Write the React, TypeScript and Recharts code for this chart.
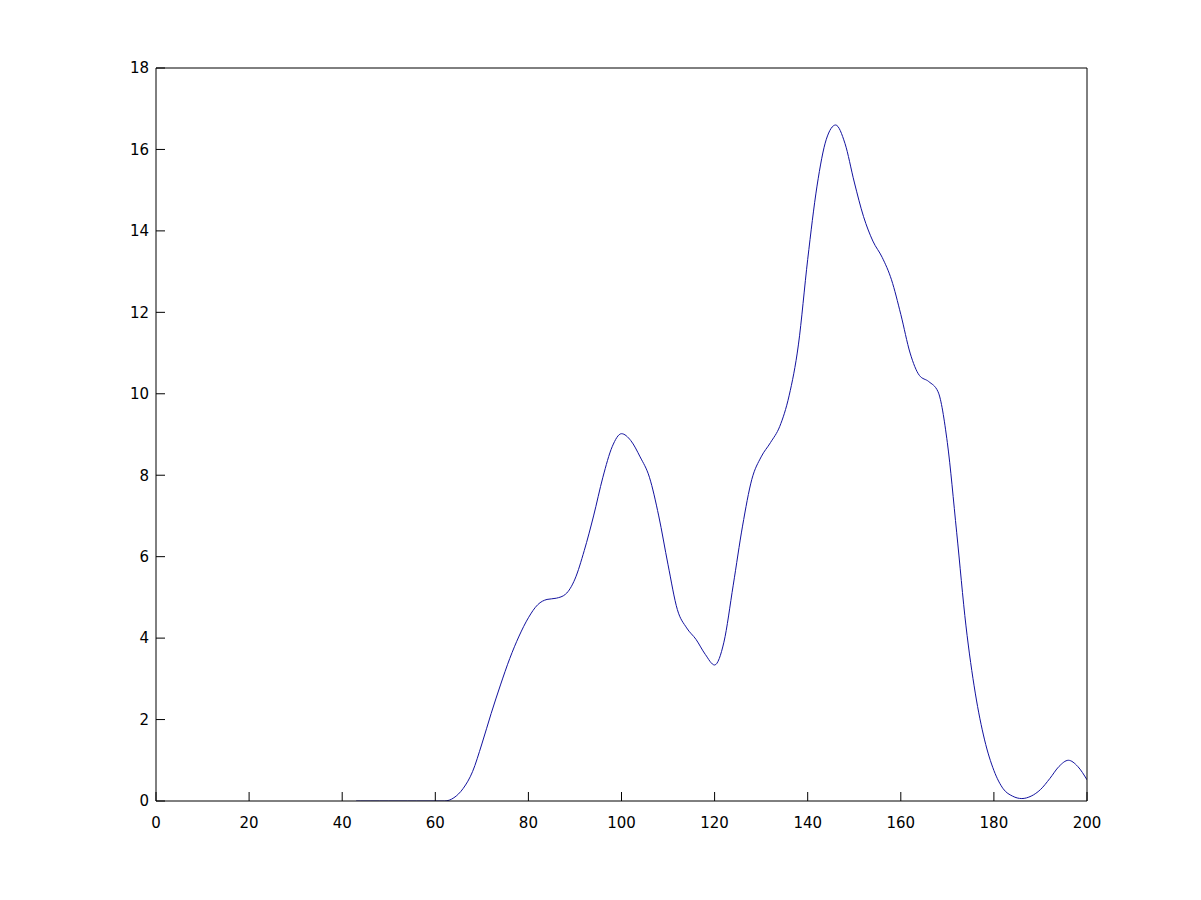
import React from "react";
import { LineChart, Line, XAxis, YAxis } from "recharts";

const xValues: number[] = [
  43, 44, 46, 48, 50, 52, 54, 56, 58, 60, 62, 64, 66, 68, 70, 72, 74, 76, 78, 80,
  82, 84, 86, 88, 90, 92, 94, 96, 98, 100, 102, 104, 106, 108, 110, 112, 114, 116, 118, 120,
  122, 124, 126, 128, 130, 132, 134, 136, 138, 140, 142, 144, 146, 148, 150, 152, 154, 156, 158, 160,
  162, 164, 166, 168, 170, 172, 174, 176, 178, 180, 182, 184, 186, 188, 190, 192, 194, 196, 198, 200,
];

const yValues: number[] = [
  0, 0, 0, 0, 0, 0, 0, 0, 0, 0, 0, 0.08, 0.31, 0.72, 1.4, 2.15, 2.85, 3.5, 4.05, 4.5,
  4.82, 4.95, 4.98, 5.08, 5.45, 6.15, 7.0, 7.95, 8.7, 9.02, 8.85, 8.45, 7.95, 7.0, 5.8, 4.7, 4.25, 3.97, 3.6, 3.34,
  3.9, 5.3, 6.75, 7.9, 8.45, 8.8, 9.2, 9.95, 11.2, 13.3, 15.1, 16.25, 16.6, 16.15, 15.2, 14.35, 13.75, 13.35, 12.8, 11.95,
  11.0, 10.45, 10.3, 10.05, 8.8, 6.6, 4.3, 2.65, 1.5, 0.75, 0.3, 0.12, 0.06, 0.12, 0.28, 0.55, 0.85, 1.0, 0.85, 0.52,
];

const xTicks: number[] = [0, 20, 40, 60, 80, 100, 120, 140, 160, 180, 200];
const yTicks: number[] = [0, 2, 4, 6, 8, 10, 12, 14, 16, 18];

const data = xValues.map((x, i) => ({ x, y: yValues[i] }));

const tickStyle = { fill: "#000", fontSize: 15, fontFamily: "DejaVu Sans, sans-serif" };
const axisLine = { stroke: "#000", strokeWidth: 1 };

export default function App() {
  return (
    <div style={{ position: "absolute", left: 0, top: 0, width: 1201, height: 900, background: "#fff" }}>
      <LineChart
        width={1201}
        height={900}
        data={data}
        margin={{ top: 38, right: 54, bottom: 39, left: 0 }}
        style={{ fontFamily: "DejaVu Sans, sans-serif" }}
      >
        <XAxis
          xAxisId="bottom"
          dataKey="x"
          type="number"
          domain={[0, 200]}
          ticks={xTicks}
          height={60}
          tickSize={-9}
          tickMargin={25}
          tick={tickStyle}
          axisLine={axisLine}
          tickLine={axisLine}
          interval={0}
          allowDataOverflow
        />
        <XAxis
          xAxisId="top"
          orientation="top"
          dataKey="x"
          type="number"
          domain={[0, 200]}
          ticks={xTicks}
          height={30}
          tickSize={-9}
          tick={false}
          axisLine={axisLine}
          tickLine={axisLine}
          interval={0}
          allowDataOverflow
        />
        <YAxis
          yAxisId="left"
          type="number"
          domain={[0, 18]}
          ticks={yTicks}
          width={156}
          tickSize={-9}
          tickMargin={16}
          tick={tickStyle}
          axisLine={axisLine}
          tickLine={axisLine}
          interval={0}
          allowDataOverflow
        />
        <YAxis
          yAxisId="right"
          orientation="right"
          type="number"
          domain={[0, 18]}
          ticks={yTicks}
          width={60}
          tickSize={-9}
          tick={false}
          axisLine={axisLine}
          tickLine={axisLine}
          interval={0}
          allowDataOverflow
        />
        <Line
          xAxisId="bottom"
          yAxisId="left"
          type="monotone"
          dataKey="y"
          stroke="#12129e"
          strokeWidth={1}
          dot={false}
          activeDot={false}
          isAnimationActive={false}
        />
        <Line
          xAxisId="top"
          yAxisId="right"
          type="linear"
          dataKey="y"
          stroke="none"
          dot={false}
          activeDot={false}
          legendType="none"
          isAnimationActive={false}
        />
      </LineChart>
    </div>
  );
}
